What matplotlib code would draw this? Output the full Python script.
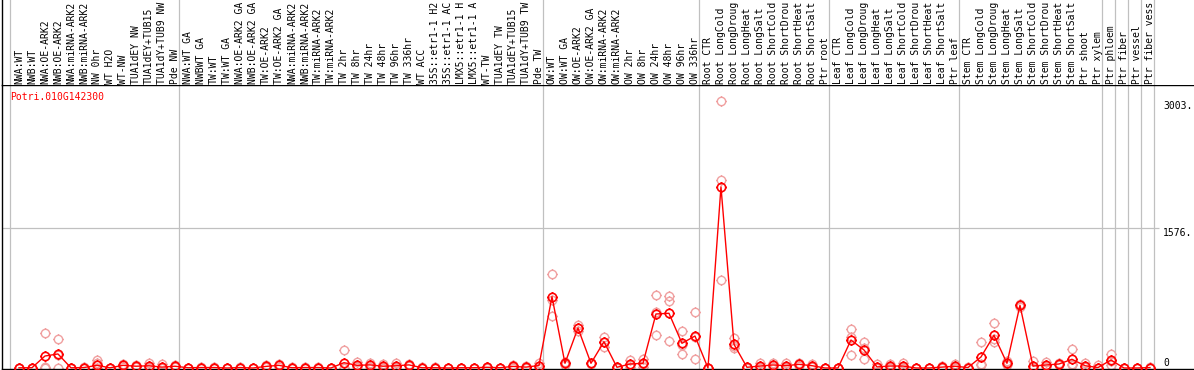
import numpy as np
import matplotlib.pyplot as plt
from matplotlib.path import Path

gene = 'Potri.010G142300'

# sample names, one column each (as far as they show in the header)
labels = ['NWA:WT', 'NWB:WT', 'NWA:OE-ARK2', 'NWB:OE-ARK2', 'NWA:miRNA-ARK2', 'NWB:miRNA-ARK2',
          'NW 0hr', 'WT H2O', 'WT-NW', 'TUA1dEY NW', 'TUA1dEY+TUB15', 'TUA1dY+TUB9 NW', 'Pde NW',
          'NWA:WT GA', 'NWBWT GA', 'TW:WT', 'TW:WT GA', 'NWA:OE-ARK2 GA', 'NWB:OE-ARK2 GA',
          'TW:OE-ARK2', 'TW:OE-ARK2 GA', 'NWA:miRNA-ARK2', 'NWB:miRNA-ARK2', 'TW:miRNA-ARK2',
          'TW:miRNA-ARK2', 'TW 2hr', 'TW 8hr', 'TW 24hr', 'TW 48hr', 'TW 96hr', 'TW 336hr', 'WT ACC',
          '35S::etr1-1 H2', '35S::etr1-1 AC', 'LMX5::etr1-1 H', 'LMX5::etr1-1 A', 'WT-TW',
          'TUA1dEY TW', 'TUA1dEY+TUB15', 'TUA1dY+TUB9 TW', 'Pde TW',
          'OW:WT', 'OW:WT GA', 'OW:OE-ARK2', 'OW:OE-ARK2 GA', 'OW:miRNA-ARK2', 'OW:miRNA-ARK2',
          'OW 2hr', 'OW 8hr', 'OW 24hr', 'OW 48hr', 'OW 96hr', 'OW 336hr',
          'Root CTR', 'Root LongCold', 'Root LongDroug', 'Root LongHeat', 'Root LongSalt',
          'Root ShortCold', 'Root ShortDrou', 'Root ShortHeat', 'Root ShortSalt', 'Ptr root',
          'Leaf CTR', 'Leaf LongCold', 'Leaf LongDroug', 'Leaf LongHeat', 'Leaf LongSalt',
          'Leaf ShortCold', 'Leaf ShortDrou', 'Leaf ShortHeat', 'Leaf ShortSalt', 'Ptr leaf',
          'Stem CTR', 'Stem LongCold', 'Stem LongDroug', 'Stem LongHeat', 'Stem LongSalt',
          'Stem ShortCold', 'Stem ShortDrou', 'Stem ShortHeat', 'Stem ShortSalt', 'Ptr shoot',
          'Ptr xylem', 'Ptr phloem', 'Ptr fiber', 'Ptr vessel', 'Ptr fiber vess']

# column index where each sample group starts
group_starts = [0, 13, 41, 53, 63, 73, 84, 85, 86, 87, 88]

# mean expression per sample
mean_expr = [2, 3, 135, 158, 2, 5, 30, 2, 30, 20, 25, 10, 20,
             3, 5, 5, 0, 5, 0, 18, 30, 3, 5, 5, 0, 60, 30, 35, 20, 25, 35, 3, 3, 0, 3, 3,
             8, 3, 18, 10, 28,
             803, 53, 450, 53, 296, 8, 45, 53, 608, 616, 278, 360,
             0, 2040, 267, 8, 22, 34, 26, 41, 26, 0,
             0, 315, 203, 12, 22, 22, 0, 0, 10, 20,
             5, 124, 368, 53, 706, 22, 34, 45, 98, 26, 5,
             90, 0, 0, 5]

# replicate values
rep1 = [5, 5, 390, 323, 3, 8, 95, 4, 45, 30, 60, 45, 30,
        5, 8, 8, 2, 10, 2, 30, 50, 6, 10, 10, 2, 203, 62, 55, 45, 60, 50, 6, 6, 2, 5, 5,
        12, 5, 35, 20, 60,
        1058, 60, 484, 60, 353, 12, 90, 98, 822, 811, 420, 630,
        2, 3003, 334, 12, 56, 60, 60, 56, 50, 2,
        2, 435, 289, 50, 45, 55, 2, 2, 18, 45,
        8, 289, 503, 79, 720, 75, 71, 60, 210, 56, 35,
        158, 2, 2, 8]
rep2 = [0, 3, 8, 145, 2, 4, 60, 2, 30, 20, 10, 0, 20,
        3, 5, 5, 0, 5, 0, 15, 30, 3, 5, 5, 0, 0, 20, 35, 10, 10, 35, 3, 3, 0, 3, 3,
        8, 3, 15, 8, 20,
        760, 65, 446, 53, 296, 8, 35, 45, 635, 754, 256, 345,
        0, 2117, 245, 8, 8, 30, 15, 40, 20, 0,
        0, 350, 222, 0, 15, 10, 0, 0, 8, 10,
        5, 45, 323, 50, 706, 0, 20, 45, 50, 15, 0,
        80, 0, 0, 5]
rep3 = [0, 0, 5, 5, 0, 2, 0, 0, 15, 10, 5, 0, 10,
        0, 2, 2, 0, 0, 0, 8, 10, 0, 0, 0, 0, 0, 8, 15, 5, 5, 20, 0, 0, 0, 0, 0,
        4, 0, 5, 2, 5,
        589, 35, 420, 45, 240, 4, 10, 15, 368, 304, 158, 105,
        0, 991, 222, 4, 2, 12, 5, 27, 8, 0,
        0, 143, 98, 0, 5, 0, 0, 0, 4, 5,
        2, 38, 293, 30, 692, 0, 10, 30, 34, 8, 0,
        30, 0, 0, 2]

W, H = 1194, 370
per_px = 1576 / 140.0     # value per pixel
x = np.arange(len(labels)) + 0.69
xl = (-8 / 13.0, 1184 / 13.0)
mono = 'DejaVu Sans Mono'
fs = 7.0

# circle marker with small ticks outside
stub_v = [(0, 1), (0, 1.25), (0, -1), (0, -1.25), (1, 0), (1.25, 0), (-1, 0), (-1.25, 0)]
stub_c = [Path.MOVETO, Path.LINETO] * 4
mk = Path.make_compound_path(Path.unit_circle(), Path(stub_v, stub_c))

fig = plt.figure(figsize=(W / 100, H / 100), dpi=100)
ax = fig.add_axes([2 / W, 1 / H, 1 - 2 / W, (369 - 85) / H])
axl = fig.add_axes([2 / W, (370 - 85) / H, 1 - 2 / W, 85 / H])

for a in (ax, axl):
    a.set_xlim(*xl)
    a.set_xticks([])
    a.set_yticks([])
    a.spines['right'].set_visible(False)
    for b in group_starts:
        a.axvline(b, color='#c0c0c0', lw=0.9, zorder=0)
axl.set_ylim(0, 1)
axl.spines['top'].set_visible(False)
axl.spines['bottom'].set_visible(False)
ax.set_ylim(-1 * per_px, 283 * per_px)
for s in ('left', 'bottom', 'top'):
    ax.spines[s].set_linewidth(1.0)
axl.spines['left'].set_linewidth(1.0)

ax.hlines(1576, xl[0], 88.4, color='#c0c0c0', lw=0.9, zorder=0)

# replicates, then the mean line
for r in (rep1, rep2, rep3):
    ax.plot(x, r, linestyle='none', marker=mk, markersize=7.5, markerfacecolor='none',
            markeredgecolor='#f0a0a0', markeredgewidth=1.0, zorder=2)
ax.plot(x, mean_expr, color='red', lw=1.0, marker=mk, markersize=7.5, markerfacecolor='none',
        markeredgecolor='red', markeredgewidth=1.2, zorder=3)

ax.text(0, (368 - 97) * per_px, gene, color='red', ha='left', va='center', family=mono, fontsize=fs)

# value labels on the right
for v, t in [(3003, '3003.'), (1576, '1576.')]:
    ax.text(88.69, v, t, ha='left', va='top', family=mono, fontsize=fs)
ax.text(88.69, 0, '0', ha='left', va='bottom', family=mono, fontsize=fs)

for xi, lab in zip(x, labels):
    axl.text(xi, 1.5 / 85, lab, rotation=90, ha='center', va='bottom', family=mono, fontsize=fs)

plt.savefig('out.png', dpi=100)
